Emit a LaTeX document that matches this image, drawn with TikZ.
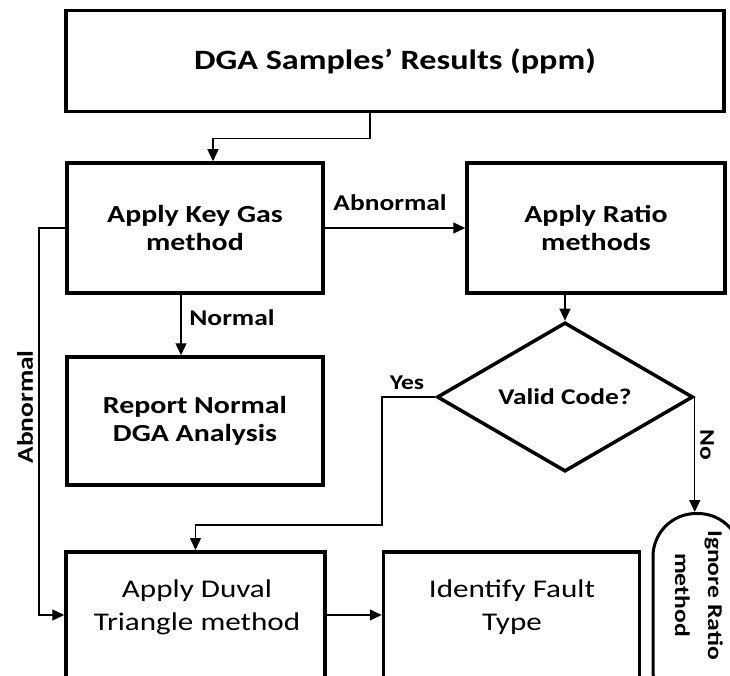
\documentclass[tikz,border=0pt]{standalone}
\usepackage{fontspec}
\setmainfont{Carlito}[FakeStretch=1.22]
\usetikzlibrary{shapes.geometric,arrows.meta}
\begin{document}
\begin{tikzpicture}[x=1pt,y=-1pt,
  box/.style={draw,line width=3.5pt,inner sep=0pt,align=center},
  txt/.style={font=\bfseries\fontsize{24.5}{28}\selectfont,align=center,inner sep=0pt},
  rtxt/.style={font=\fontsize{25.5}{33}\selectfont,align=center,inner sep=0pt},
  lbl/.style={font=\bfseries\fontsize{22.5}{26}\selectfont,inner sep=0pt},
  slbl/.style={font=\bfseries\fontsize{21}{24}\selectfont,inner sep=0pt},
  conn/.style={line width=1.4pt,-{Triangle[length=12pt,width=11pt]}},
  ]
\useasboundingbox (0,0) rectangle (730,676);
\clip (0,0) rectangle (730,676);
\node[box,minimum width=658,minimum height=101,font=\bfseries\fontsize{28}{32}\selectfont] (dga) at (395,61) {DGA Samples’ Results (ppm)};
\node[box,txt,minimum width=256,minimum height=130] (key) at (195,228) {Apply Key Gas\\method};
\node[box,txt,minimum width=258,minimum height=130] (ratio) at (596,228) {Apply Ratio\\methods};
\node[box,txt,minimum width=256,minimum height=128] (report) at (195,421) {Report Normal\\DGA Analysis};
\node[draw,line width=3.5pt,shape=diamond,inner sep=0pt,minimum width=256,minimum height=130,font=\bfseries\fontsize{22.5}{26}\selectfont] (valid) at (565,397) {Valid Code?};
\node[box,minimum width=259,minimum height=160,anchor=north] (duval) at (195.5,550) {};
\node[rtxt] (duvaltxt) at (197,607) {Apply Duval\\Triangle method};
\node[box,minimum width=256,minimum height=160,anchor=north] (ident) at (511.5,550) {};
\node[rtxt] (identtxt) at (512,607) {Identify Fault\\Type};
\node[draw,line width=3pt,rounded corners=43pt,minimum width=88,minimum height=200,anchor=north,inner sep=0pt] (ignore) at (697,512) {};
\node[txt,rotate=-90,font=\bfseries\fontsize{21}{33}\selectfont] (ignoretxt) at (699,595) {Ignore Ratio\\method};

\coordinate (a2) at (39,615);
\coordinate (y1) at (382,525);

\draw[conn] ([xshift=-25pt]dga.south) -- ++(0,25) -| ([xshift=18pt]key.north);
\draw[conn] (key.east) -- (ratio.west);
\node[lbl] (labn) at (390,203) {Abnormal};
\draw[conn] ([xshift=-14pt]key.south) -- ([xshift=-14pt]report.north);
\node[lbl] (lnorm) at (232,318) {Normal};
\draw[conn] ([xshift=-31pt]ratio.south) -- (valid.north);
\draw[conn] (valid.west) -| (y1) -| (duval.north);
\node[slbl] (lyes) at (407,383) {Yes};
\draw[conn] (valid.east) -- (valid.east |- ignore.north);
\node[slbl,rotate=-90] (lno) at (707,445) {No};
\draw[conn] (key.west) -| (a2) -- (a2 -| duval.west);
\node[lbl,rotate=90] (labn2) at (25,407) {Abnormal};
\draw[conn] (a2 -| duval.east) -- (a2 -| ident.west);
\end{tikzpicture}
\end{document}
